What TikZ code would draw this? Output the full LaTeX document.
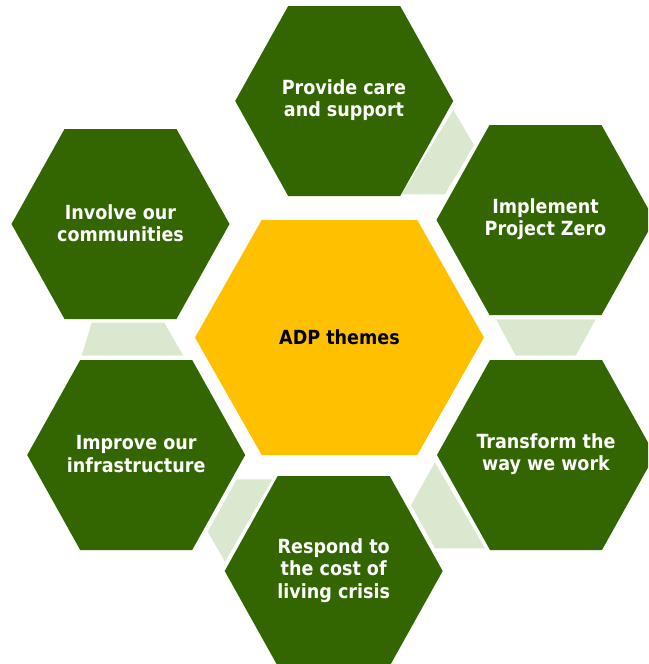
\documentclass[tikz,border=0pt]{standalone}
\usepackage{fontspec}
\setmainfont{DejaVu Sans Condensed}
\definecolor{hexgreen}{RGB}{51,102,0}
\definecolor{lightlink}{RGB}{218,232,208}
\definecolor{hexyellow}{RGB}{255,192,0}
\tikzset{
  greenhex/.style={fill=hexgreen},
  yellowhex/.style={fill=hexyellow},
  linkpiece/.style={fill=lightlink},
  hexlabel/.style={text=white, font=\fontsize{19.5}{22.3}\selectfont\bfseries, align=center},
  centerlabel/.style={text=black, font=\fontsize{19.5}{23}\selectfont\bfseries, align=center}
}
\newcommand{\hexpath}[2]{% center x, center y
  (#1-109,#2) -- (#1-56,#2-95) -- (#1+56,#2-95) -- (#1+109,#2) -- (#1+56,#2+95) -- (#1-56,#2+95) -- cycle}
\begin{document}
\begin{tikzpicture}[x=1pt,y=-1pt]
\useasboundingbox (0,0) rectangle (648,664);
\begin{scope}
\clip (0,0) rectangle (648,664);
% link pieces
\fill[linkpiece] (453.3,110) -- (474,145) -- (445,194.3) -- (401.7,194.3) -- cycle;
\fill[linkpiece] (496,319.3) -- (595.7,319.3) -- (575.7,355.7) -- (515.7,355.7) -- cycle;
\fill[linkpiece] (435,462.3) -- (411,505) -- (435,548.3) -- (485,548.3) -- cycle;
\fill[linkpiece] (236.7,479.3) -- (272.3,479.3) -- (225,561.7) -- (207.7,531.7) -- cycle;
\fill[linkpiece] (91.7,322.7) -- (164.3,322.7) -- (183.3,355.7) -- (81.7,355.7) -- cycle;
% hexagons
\fill[greenhex] \hexpath{344.2}{101};
\fill[greenhex] \hexpath{545.5}{220};
\fill[greenhex] \hexpath{546}{455};
\fill[greenhex] \hexpath{333.7}{571};
\fill[greenhex] \hexpath{136.2}{455};
\fill[greenhex] \hexpath{120.5}{224};
\fill[yellowhex] (195,337.5) -- (261.7,220) -- (417.3,220) -- (484,337.5) -- (417.3,455) -- (261.7,455) -- cycle;
\end{scope}
% labels
\node[hexlabel] (provide) at (344,100) {Provide care\\and support};
\node[hexlabel] (implement) at (545.5,219.5) {Implement\\Project Zero};
\node[hexlabel] (transform) at (546,454) {Transform the\\way we work};
\node[hexlabel] (respond) at (333.7,570.5) {Respond to\\the cost of\\living crisis};
\node[hexlabel] (improve) at (136.2,454) {Improve our\\infrastructure};
\node[hexlabel] (involve) at (120.5,223) {Involve our\\communities};
\node[centerlabel] (center) at (339.5,337.5) {ADP themes};
\end{tikzpicture}
\end{document}
